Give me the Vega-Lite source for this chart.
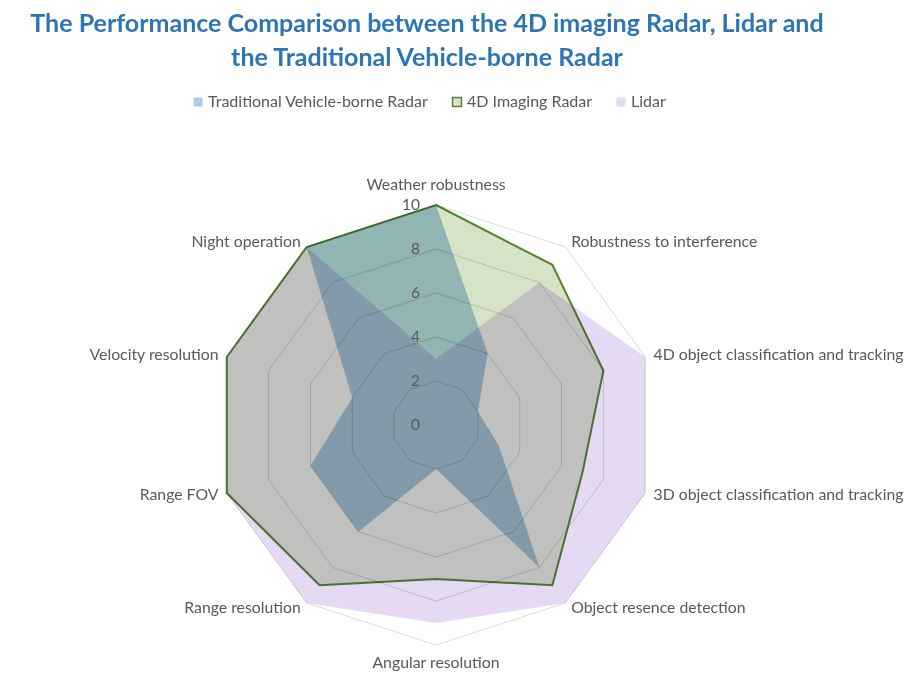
{
  "$schema": "https://vega.github.io/schema/vega-lite/v6.json",
  "width": 924,
  "height": 608,
  "autosize": {"type": "none"},
  "padding": {"left": 0, "top": 80, "right": 0, "bottom": 0},
  "background": "white",
  "config": {"view": {"stroke": null}, "font": "Lato"},
  "title": {
    "text": ["The Performance Comparison between the 4D imaging Radar, Lidar and", "the Traditional Vehicle-borne Radar"],
    "font": "Lato",
    "fontSize": 25,
    "fontWeight": "bold",
    "color": "#2e75b6",
    "anchor": "middle",
    "dx": -35,
    "lineHeight": 34,
    "offset": 9
  },
  "datasets": {
    "scores": [
      {"series": "Traditional Vehicle-borne Radar", "category": "Weather robustness", "idx": 0, "score": 10},
      {"series": "Traditional Vehicle-borne Radar", "category": "Robustness to interference", "idx": 1, "score": 4},
      {"series": "Traditional Vehicle-borne Radar", "category": "4D object classification and tracking", "idx": 2, "score": 2},
      {"series": "Traditional Vehicle-borne Radar", "category": "3D object classification and tracking", "idx": 3, "score": 3},
      {"series": "Traditional Vehicle-borne Radar", "category": "Object resence detection", "idx": 4, "score": 8},
      {"series": "Traditional Vehicle-borne Radar", "category": "Angular resolution", "idx": 5, "score": 2},
      {"series": "Traditional Vehicle-borne Radar", "category": "Range resolution", "idx": 6, "score": 6},
      {"series": "Traditional Vehicle-borne Radar", "category": "Range FOV", "idx": 7, "score": 6},
      {"series": "Traditional Vehicle-borne Radar", "category": "Velocity resolution", "idx": 8, "score": 4},
      {"series": "Traditional Vehicle-borne Radar", "category": "Night operation", "idx": 9, "score": 10},
      {"series": "4D Imaging Radar", "category": "Weather robustness", "idx": 0, "score": 10},
      {"series": "4D Imaging Radar", "category": "Robustness to interference", "idx": 1, "score": 9},
      {"series": "4D Imaging Radar", "category": "4D object classification and tracking", "idx": 2, "score": 8},
      {"series": "4D Imaging Radar", "category": "3D object classification and tracking", "idx": 3, "score": 7},
      {"series": "4D Imaging Radar", "category": "Object resence detection", "idx": 4, "score": 9},
      {"series": "4D Imaging Radar", "category": "Angular resolution", "idx": 5, "score": 7},
      {"series": "4D Imaging Radar", "category": "Range resolution", "idx": 6, "score": 9},
      {"series": "4D Imaging Radar", "category": "Range FOV", "idx": 7, "score": 10},
      {"series": "4D Imaging Radar", "category": "Velocity resolution", "idx": 8, "score": 10},
      {"series": "4D Imaging Radar", "category": "Night operation", "idx": 9, "score": 10},
      {"series": "Lidar", "category": "Weather robustness", "idx": 0, "score": 3},
      {"series": "Lidar", "category": "Robustness to interference", "idx": 1, "score": 8},
      {"series": "Lidar", "category": "4D object classification and tracking", "idx": 2, "score": 10},
      {"series": "Lidar", "category": "3D object classification and tracking", "idx": 3, "score": 10},
      {"series": "Lidar", "category": "Object resence detection", "idx": 4, "score": 10},
      {"series": "Lidar", "category": "Angular resolution", "idx": 5, "score": 9},
      {"series": "Lidar", "category": "Range resolution", "idx": 6, "score": 10},
      {"series": "Lidar", "category": "Range FOV", "idx": 7, "score": 10},
      {"series": "Lidar", "category": "Velocity resolution", "idx": 8, "score": 10},
      {"series": "Lidar", "category": "Night operation", "idx": 9, "score": 10}
    ],
    "axes": [
      {"category": "Weather robustness", "idx": 0, "levels": [2, 4, 6, 8, 10]},
      {"category": "Robustness to interference", "idx": 1, "levels": [2, 4, 6, 8, 10]},
      {"category": "4D object classification and tracking", "idx": 2, "levels": [2, 4, 6, 8, 10]},
      {"category": "3D object classification and tracking", "idx": 3, "levels": [2, 4, 6, 8, 10]},
      {"category": "Object resence detection", "idx": 4, "levels": [2, 4, 6, 8, 10]},
      {"category": "Angular resolution", "idx": 5, "levels": [2, 4, 6, 8, 10]},
      {"category": "Range resolution", "idx": 6, "levels": [2, 4, 6, 8, 10]},
      {"category": "Range FOV", "idx": 7, "levels": [2, 4, 6, 8, 10]},
      {"category": "Velocity resolution", "idx": 8, "levels": [2, 4, 6, 8, 10]},
      {"category": "Night operation", "idx": 9, "levels": [2, 4, 6, 8, 10]}
    ],
    "ticks": [{"v": 0}, {"v": 2}, {"v": 4}, {"v": 6}, {"v": 8}, {"v": 10}]
  },
  "encoding": {
    "x": {"field": "px", "type": "quantitative", "scale": {"domain": [-19.818, 22.182], "nice": false, "zero": false}, "axis": null},
    "y": {"field": "py", "type": "quantitative", "scale": {"domain": [-11.955, 15.682], "nice": false, "zero": false}, "axis": null}
  },
  "layer": [
    {
      "data": {"name": "axes"},
      "transform": [
        {"flatten": ["levels"], "as": ["level"]},
        {"calculate": "datum.level*sin(datum.idx*PI/5)", "as": "px"},
        {"calculate": "datum.level*cos(datum.idx*PI/5)", "as": "py"}
      ],
      "mark": {"type": "line", "interpolate": "linear-closed", "stroke": "#d9d9d9", "strokeWidth": 1},
      "encoding": {
        "detail": {"field": "level", "type": "nominal"},
        "order": {"field": "idx", "type": "quantitative"}
      }
    },
    {
      "data": {"name": "scores"},
      "transform": [
        {"calculate": "datum.score*sin(datum.idx*PI/5)", "as": "px"},
        {"calculate": "datum.score*cos(datum.idx*PI/5)", "as": "py"}
      ],
      "mark": {"type": "line", "interpolate": "linear-closed", "strokeWidth": 2, "blend": "multiply"},
      "encoding": {
        "fill": {
          "field": "series", "type": "nominal",
          "scale": {"domain": ["Traditional Vehicle-borne Radar", "4D Imaging Radar", "Lidar"], "range": ["#adcbe3", "#d6e3c8", "#e5d9f3"]},
          "legend": {
            "orient": "none", "legendX": 190, "legendY": 14, "direction": "horizontal", "title": null,
            "symbolType": "square", "symbolSize": 80, "symbolStrokeWidth": 1.5,
            "labelFont": "Lato", "labelFontSize": 16, "labelColor": "#595959", "labelLimit": 400,
            "columnPadding": 20, "labelOffset": 2, "padding": 0
          }
        },
        "stroke": {
          "field": "series", "type": "nominal",
          "scale": {"domain": ["Traditional Vehicle-borne Radar", "4D Imaging Radar", "Lidar"], "range": ["rgba(0,0,0,0)", "#548235", "rgba(0,0,0,0)"]},
          "legend": {
            "orient": "none", "legendX": 190, "legendY": 14, "direction": "horizontal", "title": null,
            "symbolType": "square", "symbolSize": 80, "symbolStrokeWidth": 1.5,
            "labelFont": "Lato", "labelFontSize": 16, "labelColor": "#595959", "labelLimit": 400,
            "columnPadding": 20, "labelOffset": 2, "padding": 0
          }
        },
        "order": {"field": "idx", "type": "quantitative"}
      }
    },
    {
      "data": {"name": "ticks"},
      "transform": [
        {"calculate": "0", "as": "px"},
        {"calculate": "datum.v", "as": "py"}
      ],
      "mark": {"type": "text", "align": "right", "baseline": "middle", "dx": -16, "fontSize": 15.5, "color": "#595959", "font": "Lato"},
      "encoding": {"text": {"field": "v", "type": "quantitative"}}
    },
    {
      "data": {"name": "axes"},
      "transform": [
        {"filter": "datum.idx == 0 || datum.idx == 5"},
        {"calculate": "10.3*sin(datum.idx*PI/5) ", "as": "px"},
        {"calculate": "datum.idx == 0 ? 10.9 : -10.8", "as": "py"}
      ],
      "mark": {"type": "text", "align": "center", "baseline": "middle", "fontSize": 15.8, "color": "#595959", "font": "Lato"},
      "encoding": {"text": {"field": "category", "type": "nominal"}}
    },
    {
      "data": {"name": "axes"},
      "transform": [
        {"filter": "datum.idx >= 1 && datum.idx <= 4"},
        {"calculate": "10.3*sin(datum.idx*PI/5)", "as": "px"},
        {"calculate": "10.3*cos(datum.idx*PI/5)", "as": "py"}
      ],
      "mark": {"type": "text", "align": "left", "baseline": "middle", "dx": 2, "fontSize": 15.8, "color": "#595959", "font": "Lato"},
      "encoding": {"text": {"field": "category", "type": "nominal"}}
    },
    {
      "data": {"name": "axes"},
      "transform": [
        {"filter": "datum.idx >= 6"},
        {"calculate": "10.3*sin(datum.idx*PI/5)", "as": "px"},
        {"calculate": "10.3*cos(datum.idx*PI/5)", "as": "py"}
      ],
      "mark": {"type": "text", "align": "right", "baseline": "middle", "dx": -2, "fontSize": 15.8, "color": "#595959", "font": "Lato"},
      "encoding": {"text": {"field": "category", "type": "nominal"}}
    }
  ]
}
